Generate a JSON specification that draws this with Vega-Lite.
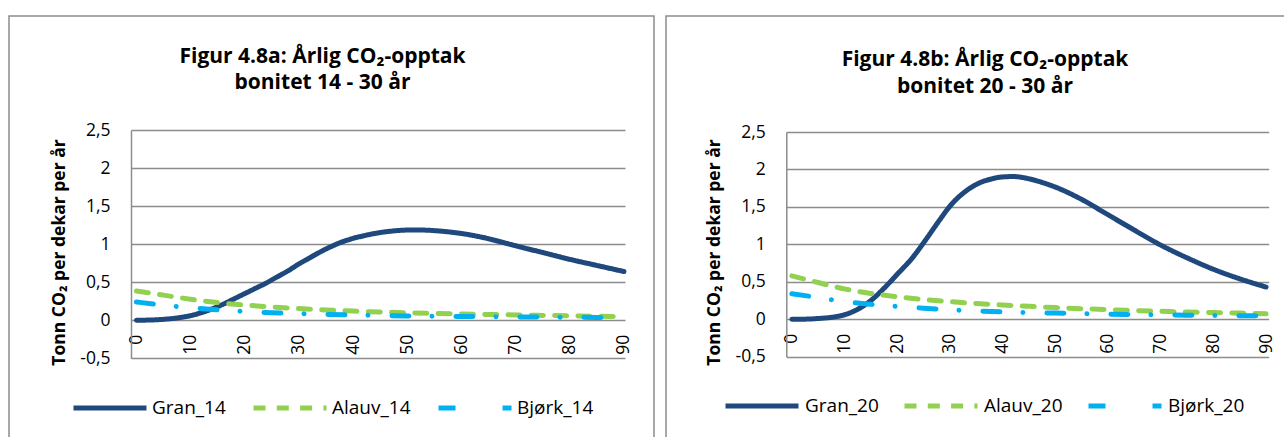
{
  "$schema": "https://vega.github.io/schema/vega-lite/v6.json",
  "padding": {"left": 8, "top": 15, "right": 0, "bottom": 0},
  "spacing": 10,
  "background": "white",
  "resolve": {"scale": {"color": "independent", "strokeDash": "independent"}, "legend": {"color": "independent", "strokeDash": "independent"}},
  "config": {
    "font": "Open Sans",
    "view": {"stroke": "#8C8C8C", "strokeWidth": 1.5},
    "axis": {"labelColor": "#000000", "titleColor": "#000000", "labelFontSize": 17.5, "gridColor": "#8C8C8C", "gridWidth": 1.5, "domainColor": "#8C8C8C", "domainWidth": 1.5, "ticks": false, "tickSize": 0},
    "legend": {"labelColor": "#000000"}
  },
  "datasets": {
    "b14": [
      {"ar": 0, "serie": "Gran_14", "verdi": 0},
      {"ar": 3, "serie": "Gran_14", "verdi": 0.004},
      {"ar": 5, "serie": "Gran_14", "verdi": 0.012},
      {"ar": 8, "serie": "Gran_14", "verdi": 0.035},
      {"ar": 10, "serie": "Gran_14", "verdi": 0.06},
      {"ar": 12, "serie": "Gran_14", "verdi": 0.1},
      {"ar": 14, "serie": "Gran_14", "verdi": 0.15},
      {"ar": 16, "serie": "Gran_14", "verdi": 0.21},
      {"ar": 18, "serie": "Gran_14", "verdi": 0.28},
      {"ar": 20, "serie": "Gran_14", "verdi": 0.35},
      {"ar": 22, "serie": "Gran_14", "verdi": 0.42},
      {"ar": 24, "serie": "Gran_14", "verdi": 0.49},
      {"ar": 26, "serie": "Gran_14", "verdi": 0.57},
      {"ar": 28, "serie": "Gran_14", "verdi": 0.65},
      {"ar": 30, "serie": "Gran_14", "verdi": 0.74},
      {"ar": 32, "serie": "Gran_14", "verdi": 0.82},
      {"ar": 34, "serie": "Gran_14", "verdi": 0.9},
      {"ar": 36, "serie": "Gran_14", "verdi": 0.97},
      {"ar": 38, "serie": "Gran_14", "verdi": 1.03},
      {"ar": 40, "serie": "Gran_14", "verdi": 1.075},
      {"ar": 42, "serie": "Gran_14", "verdi": 1.11},
      {"ar": 44, "serie": "Gran_14", "verdi": 1.14},
      {"ar": 46, "serie": "Gran_14", "verdi": 1.162},
      {"ar": 48, "serie": "Gran_14", "verdi": 1.177},
      {"ar": 50, "serie": "Gran_14", "verdi": 1.185},
      {"ar": 52, "serie": "Gran_14", "verdi": 1.186},
      {"ar": 54, "serie": "Gran_14", "verdi": 1.182},
      {"ar": 56, "serie": "Gran_14", "verdi": 1.172},
      {"ar": 58, "serie": "Gran_14", "verdi": 1.158},
      {"ar": 60, "serie": "Gran_14", "verdi": 1.14},
      {"ar": 62, "serie": "Gran_14", "verdi": 1.116},
      {"ar": 64, "serie": "Gran_14", "verdi": 1.087},
      {"ar": 66, "serie": "Gran_14", "verdi": 1.053},
      {"ar": 68, "serie": "Gran_14", "verdi": 1.016},
      {"ar": 70, "serie": "Gran_14", "verdi": 0.978},
      {"ar": 75, "serie": "Gran_14", "verdi": 0.89},
      {"ar": 80, "serie": "Gran_14", "verdi": 0.8},
      {"ar": 85, "serie": "Gran_14", "verdi": 0.72},
      {"ar": 90, "serie": "Gran_14", "verdi": 0.64},
      {"ar": 0, "serie": "Alauv_14", "verdi": 0.385},
      {"ar": 5, "serie": "Alauv_14", "verdi": 0.33},
      {"ar": 10, "serie": "Alauv_14", "verdi": 0.275},
      {"ar": 15, "serie": "Alauv_14", "verdi": 0.232},
      {"ar": 20, "serie": "Alauv_14", "verdi": 0.2},
      {"ar": 25, "serie": "Alauv_14", "verdi": 0.175},
      {"ar": 30, "serie": "Alauv_14", "verdi": 0.153},
      {"ar": 35, "serie": "Alauv_14", "verdi": 0.135},
      {"ar": 40, "serie": "Alauv_14", "verdi": 0.12},
      {"ar": 45, "serie": "Alauv_14", "verdi": 0.108},
      {"ar": 50, "serie": "Alauv_14", "verdi": 0.098},
      {"ar": 55, "serie": "Alauv_14", "verdi": 0.09},
      {"ar": 60, "serie": "Alauv_14", "verdi": 0.083},
      {"ar": 65, "serie": "Alauv_14", "verdi": 0.076},
      {"ar": 70, "serie": "Alauv_14", "verdi": 0.07},
      {"ar": 75, "serie": "Alauv_14", "verdi": 0.064},
      {"ar": 80, "serie": "Alauv_14", "verdi": 0.058},
      {"ar": 85, "serie": "Alauv_14", "verdi": 0.052},
      {"ar": 90, "serie": "Alauv_14", "verdi": 0.047},
      {"ar": 0, "serie": "Bjørk_14", "verdi": 0.24},
      {"ar": 5, "serie": "Bjørk_14", "verdi": 0.2},
      {"ar": 10, "serie": "Bjørk_14", "verdi": 0.163},
      {"ar": 15, "serie": "Bjørk_14", "verdi": 0.137},
      {"ar": 20, "serie": "Bjørk_14", "verdi": 0.116},
      {"ar": 25, "serie": "Bjørk_14", "verdi": 0.099},
      {"ar": 30, "serie": "Bjørk_14", "verdi": 0.087},
      {"ar": 35, "serie": "Bjørk_14", "verdi": 0.077},
      {"ar": 40, "serie": "Bjørk_14", "verdi": 0.069},
      {"ar": 45, "serie": "Bjørk_14", "verdi": 0.062},
      {"ar": 50, "serie": "Bjørk_14", "verdi": 0.057},
      {"ar": 55, "serie": "Bjørk_14", "verdi": 0.053},
      {"ar": 60, "serie": "Bjørk_14", "verdi": 0.05},
      {"ar": 65, "serie": "Bjørk_14", "verdi": 0.047},
      {"ar": 70, "serie": "Bjørk_14", "verdi": 0.044},
      {"ar": 75, "serie": "Bjørk_14", "verdi": 0.042},
      {"ar": 80, "serie": "Bjørk_14", "verdi": 0.04},
      {"ar": 85, "serie": "Bjørk_14", "verdi": 0.037},
      {"ar": 90, "serie": "Bjørk_14", "verdi": 0.035}
    ],
    "b20": [
      {"ar": 0, "serie": "Gran_20", "verdi": 0},
      {"ar": 3, "serie": "Gran_20", "verdi": 0.002},
      {"ar": 5, "serie": "Gran_20", "verdi": 0.01},
      {"ar": 8, "serie": "Gran_20", "verdi": 0.03},
      {"ar": 10, "serie": "Gran_20", "verdi": 0.06},
      {"ar": 12, "serie": "Gran_20", "verdi": 0.115},
      {"ar": 15, "serie": "Gran_20", "verdi": 0.25},
      {"ar": 18, "serie": "Gran_20", "verdi": 0.45},
      {"ar": 20, "serie": "Gran_20", "verdi": 0.6},
      {"ar": 23, "serie": "Gran_20", "verdi": 0.83},
      {"ar": 25, "serie": "Gran_20", "verdi": 1.02},
      {"ar": 28, "serie": "Gran_20", "verdi": 1.32},
      {"ar": 30, "serie": "Gran_20", "verdi": 1.51},
      {"ar": 33, "serie": "Gran_20", "verdi": 1.71},
      {"ar": 35, "serie": "Gran_20", "verdi": 1.8},
      {"ar": 38, "serie": "Gran_20", "verdi": 1.875},
      {"ar": 40, "serie": "Gran_20", "verdi": 1.9},
      {"ar": 42, "serie": "Gran_20", "verdi": 1.905},
      {"ar": 45, "serie": "Gran_20", "verdi": 1.875},
      {"ar": 48, "serie": "Gran_20", "verdi": 1.815},
      {"ar": 50, "serie": "Gran_20", "verdi": 1.765},
      {"ar": 55, "serie": "Gran_20", "verdi": 1.6},
      {"ar": 60, "serie": "Gran_20", "verdi": 1.395},
      {"ar": 65, "serie": "Gran_20", "verdi": 1.19},
      {"ar": 70, "serie": "Gran_20", "verdi": 0.99},
      {"ar": 75, "serie": "Gran_20", "verdi": 0.82},
      {"ar": 80, "serie": "Gran_20", "verdi": 0.667},
      {"ar": 85, "serie": "Gran_20", "verdi": 0.54},
      {"ar": 90, "serie": "Gran_20", "verdi": 0.43},
      {"ar": 0, "serie": "Alauv_20", "verdi": 0.58},
      {"ar": 5, "serie": "Alauv_20", "verdi": 0.49},
      {"ar": 10, "serie": "Alauv_20", "verdi": 0.405},
      {"ar": 15, "serie": "Alauv_20", "verdi": 0.345},
      {"ar": 20, "serie": "Alauv_20", "verdi": 0.3},
      {"ar": 25, "serie": "Alauv_20", "verdi": 0.263},
      {"ar": 30, "serie": "Alauv_20", "verdi": 0.235},
      {"ar": 35, "serie": "Alauv_20", "verdi": 0.21},
      {"ar": 40, "serie": "Alauv_20", "verdi": 0.19},
      {"ar": 45, "serie": "Alauv_20", "verdi": 0.172},
      {"ar": 50, "serie": "Alauv_20", "verdi": 0.156},
      {"ar": 55, "serie": "Alauv_20", "verdi": 0.141},
      {"ar": 60, "serie": "Alauv_20", "verdi": 0.128},
      {"ar": 65, "serie": "Alauv_20", "verdi": 0.116},
      {"ar": 70, "serie": "Alauv_20", "verdi": 0.106},
      {"ar": 75, "serie": "Alauv_20", "verdi": 0.097},
      {"ar": 80, "serie": "Alauv_20", "verdi": 0.089},
      {"ar": 85, "serie": "Alauv_20", "verdi": 0.082},
      {"ar": 90, "serie": "Alauv_20", "verdi": 0.075},
      {"ar": 0, "serie": "Bjørk_20", "verdi": 0.34},
      {"ar": 5, "serie": "Bjørk_20", "verdi": 0.29},
      {"ar": 10, "serie": "Bjørk_20", "verdi": 0.235},
      {"ar": 15, "serie": "Bjørk_20", "verdi": 0.2},
      {"ar": 20, "serie": "Bjørk_20", "verdi": 0.172},
      {"ar": 25, "serie": "Bjørk_20", "verdi": 0.148},
      {"ar": 30, "serie": "Bjørk_20", "verdi": 0.127},
      {"ar": 35, "serie": "Bjørk_20", "verdi": 0.111},
      {"ar": 40, "serie": "Bjørk_20", "verdi": 0.098},
      {"ar": 45, "serie": "Bjørk_20", "verdi": 0.089},
      {"ar": 50, "serie": "Bjørk_20", "verdi": 0.082},
      {"ar": 55, "serie": "Bjørk_20", "verdi": 0.075},
      {"ar": 60, "serie": "Bjørk_20", "verdi": 0.068},
      {"ar": 65, "serie": "Bjørk_20", "verdi": 0.063},
      {"ar": 70, "serie": "Bjørk_20", "verdi": 0.058},
      {"ar": 75, "serie": "Bjørk_20", "verdi": 0.054},
      {"ar": 80, "serie": "Bjørk_20", "verdi": 0.05},
      {"ar": 85, "serie": "Bjørk_20", "verdi": 0.047},
      {"ar": 90, "serie": "Bjørk_20", "verdi": 0.045}
    ]
  },
  "hconcat": [
    {
      "width": 645,
      "height": 430,
      "title": {"text": ["Figur 4.8a: Årlig CO₂-opptak", "bonitet 14 - 30 år"], "anchor": "middle", "offset": -77, "baseline": "top", "fontSize": 21, "fontWeight": "bold", "lineHeight": 26.5, "dx": -9, "color": "#000000"},
      "data": {"name": "b14"},
      "mark": {"type": "line", "strokeWidth": 5, "strokeCap": "round", "interpolate": "monotone"},
      "encoding": {
        "x": {"field": "ar", "type": "quantitative",
          "scale": {"domain": [-1, 90.2], "range": [122, 616], "nice": false, "zero": false},
          "axis": {"values": [0, 10, 20, 30, 40, 50, 60, 70, 80, 90], "labelFontSize": 17.5, "labelAngle": -90, "labelAlign": "right", "labelBaseline": "middle", "offset": -125.7, "domain": false, "grid": false, "labelPadding": 14, "title": null}},
        "y": {"field": "verdi", "type": "quantitative",
          "scale": {"domain": [-0.5, 2.5], "range": [342.3, 114], "nice": false, "zero": false},
          "axis": {"values": [-0.5, 0, 0.5, 1, 1.5, 2, 2.5], "labelFontSize": 17.5, "labelExpr": "replace(toString(datum.value), '.', ',')", "offset": -122, "grid": true, "domain": true, "labelPadding": 21, "title": "Tonn CO₂ per dekar per år", "titleFontSize": 17.5, "titleFontWeight": "bold", "titleX": -67, "titleY": 236, "titleAngle": -90, "titleAlign": "center", "titleBaseline": "alphabetic"}},
        "color": {"field": "serie", "type": "nominal",
          "scale": {"domain": ["Gran_14", "Alauv_14", "Bjørk_14"], "range": ["#1F497D", "#92D050", "#00B0F0"]},
          "legend": {"orient": "none", "legendX": 62, "legendY": 353, "direction": "horizontal", "title": null, "symbolType": "stroke", "symbolSize": 5329, "symbolStrokeWidth": 5, "labelFontSize": 19, "columnPadding": 17, "labelOffset": 3, "padding": 0}},
        "strokeDash": {"field": "serie", "type": "nominal",
          "scale": {"domain": ["Gran_14", "Alauv_14", "Bjørk_14"], "range": [[1, 0], [12, 11.3], [17, 23, 0.01, 24]]},
          "legend": {"orient": "none", "legendX": 62, "legendY": 353, "direction": "horizontal", "title": null, "symbolType": "stroke", "symbolSize": 5329, "symbolStrokeWidth": 5, "labelFontSize": 19, "columnPadding": 17, "labelOffset": 3, "padding": 0}}
      }
    },
    {
      "width": 640,
      "height": 430,
      "title": {"text": ["Figur 4.8b: Årlig CO₂-opptak", "bonitet 20 - 30 år"], "anchor": "middle", "offset": -80.5, "baseline": "top", "fontSize": 21, "fontWeight": "bold", "lineHeight": 26.5, "dx": -1, "color": "#000000"},
      "data": {"name": "b20"},
      "mark": {"type": "line", "strokeWidth": 5, "strokeCap": "round", "interpolate": "monotone"},
      "encoding": {
        "x": {"field": "ar", "type": "quantitative",
          "scale": {"domain": [-1.05, 90.5], "range": [120.3, 602.7], "nice": false, "zero": false},
          "axis": {"values": [0, 10, 20, 30, 40, 50, 60, 70, 80, 90], "labelFontSize": 17.5, "labelAngle": -90, "labelAlign": "right", "labelBaseline": "middle", "offset": -126.7, "domain": false, "grid": false, "labelPadding": 14, "title": null}},
        "y": {"field": "verdi", "type": "quantitative",
          "scale": {"domain": [-0.5, 2.5], "range": [340.7, 116], "nice": false, "zero": false},
          "axis": {"values": [-0.5, 0, 0.5, 1, 1.5, 2, 2.5], "labelFontSize": 17.5, "labelExpr": "replace(toString(datum.value), '.', ',')", "offset": -120.3, "grid": true, "domain": true, "labelPadding": 21, "title": "Tonn CO₂ per dekar per år", "titleFontSize": 17.5, "titleFontWeight": "bold", "titleX": -67, "titleY": 236, "titleAngle": -90, "titleAlign": "center", "titleBaseline": "alphabetic"}},
        "color": {"field": "serie", "type": "nominal",
          "scale": {"domain": ["Gran_20", "Alauv_20", "Bjørk_20"], "range": ["#1F497D", "#92D050", "#00B0F0"]},
          "legend": {"orient": "none", "legendX": 57, "legendY": 351, "direction": "horizontal", "title": null, "symbolType": "stroke", "symbolSize": 5329, "symbolStrokeWidth": 5, "labelFontSize": 19, "columnPadding": 15, "labelOffset": 4, "padding": 0}},
        "strokeDash": {"field": "serie", "type": "nominal",
          "scale": {"domain": ["Gran_20", "Alauv_20", "Bjørk_20"], "range": [[1, 0], [12, 11.3], [17, 23, 0.01, 24]]},
          "legend": {"orient": "none", "legendX": 57, "legendY": 351, "direction": "horizontal", "title": null, "symbolType": "stroke", "symbolSize": 5329, "symbolStrokeWidth": 5, "labelFontSize": 19, "columnPadding": 15, "labelOffset": 4, "padding": 0}}
      }
    }
  ]
}
